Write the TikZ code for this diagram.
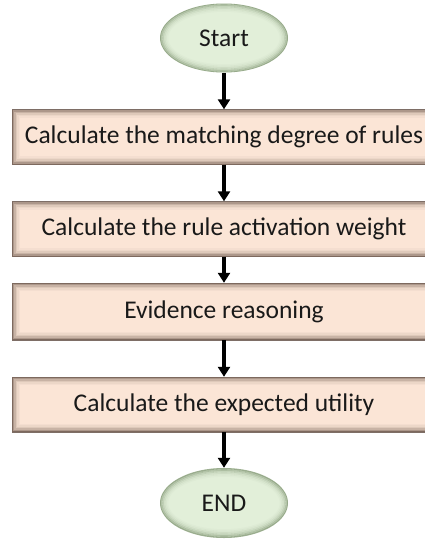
\documentclass[tikz,border=0pt]{standalone}
\usepackage{fontspec}
\setmainfont{Carlito}
\usetikzlibrary{arrows.meta,shapes.geometric}

\definecolor{boxpeach}{HTML}{FBE5D6}
\definecolor{boxedge}{HTML}{5E4A40}
\definecolor{ovalgreen}{HTML}{E2EFD9}
\definecolor{ovaledge}{HTML}{6E8460}

\tikzset{
  x=1pt, y=1pt,
  every node/.style={font=\fontsize{25.5}{30}\selectfont, text=black!90},
  stepbox/.style={
    rectangle, minimum width=424pt, minimum height=55pt, inner sep=0pt,
    fill=boxpeach,
    path picture={
      \foreach \i/\o in {0/0.8,1.5/0.5,3/0.32,4.5/0.18,6/0.09,7.5/0.04}{
        \draw[boxedge, opacity=\o, line width=1.6pt]
          ([shift={(\i pt,-\i pt)}]path picture bounding box.north west)
          rectangle ([shift={(-\i pt,\i pt)}]path picture bounding box.south east);
      }
    }
  },
  terminal/.style={
    ellipse, minimum width=128pt, minimum height=69pt, inner sep=0pt,
    fill=ovalgreen,
    path picture={
      \foreach \i/\o in {0/0.6,1.5/0.4,3/0.25,4.5/0.14,6/0.07,7.5/0.03}{
        \draw[ovaledge, opacity=\o, line width=1.6pt]
          (path picture bounding box.center) ellipse [x radius=64pt-\i pt, y radius=34.5pt-\i pt];
      }
    }
  },
  flow/.style={line width=3.2pt, -{Triangle[length=10pt,width=12pt]}}
}

\begin{document}
\begin{tikzpicture}
  \useasboundingbox (0,0) rectangle (425,-539);
  \clip (0,0) rectangle (425,-539);

  \node[terminal] (start) at (224,-38) {Start};
  \node[stepbox] (match) at (224,-137) {Calculate the matching degree of rules};
  \node[stepbox] (weight) at (224,-229) {Calculate the rule activation weight};
  \node[stepbox, minimum height=57pt] (reason) at (224,-311.5) {Evidence reasoning};
  \node[stepbox] (utility) at (224,-404.5) {Calculate the expected utility};
  \node[terminal, minimum height=70pt] (end) at (224,-503) {END};

  \draw[flow] (start.south) -- (match.north);
  \draw[flow] (match.south) -- (weight.north);
  \draw[flow] (weight.south) -- (reason.north);
  \draw[flow] (reason.south) -- (utility.north);
  \draw[flow] (utility.south) -- (end.north);
\end{tikzpicture}
\end{document}
